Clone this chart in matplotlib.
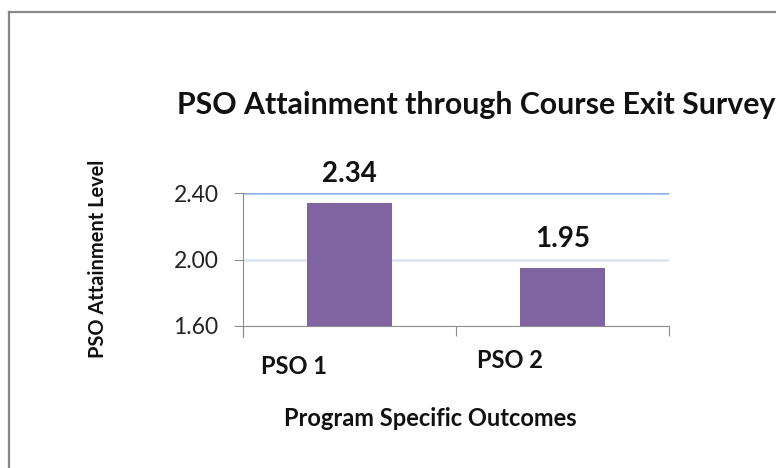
import matplotlib
matplotlib.use("Agg")
import matplotlib.pyplot as plt
from matplotlib.lines import Line2D

# Data
categories = ["PSO 1", "PSO 2"]
values = [2.34, 1.95]
y_ticks = [1.60, 2.00, 2.40]
grid_colors = ["#DBE5F1", "#8EB4E3"]   # 2.00 line, 2.40 line

plt.rcParams["font.family"] = ["Lato", "DejaVu Sans"]

W, H = 776, 468
fig = plt.figure(figsize=(W / 100, H / 100), dpi=100)

# chart border (cut off at right and bottom)
border = dict(color="#878787", lw=1.6, transform=fig.transFigure)
fig.add_artist(Line2D([8.5 / W, 1.02], [1 - 11.5 / H] * 2, **border))
fig.add_artist(Line2D([8.5 / W] * 2, [1 - 11.5 / H, -0.02], **border))

ax = fig.add_axes([243 / W, 1 - 326 / H, 426 / W, 133 / H])

x_pos = [i + 0.5 for i in range(len(categories))]
ax.bar(x_pos, values, width=0.40, color="#8064A2", zorder=3)

ax.set_xlim(0, len(categories))
ax.set_ylim(y_ticks[0], y_ticks[-1])

# horizontal gridlines
for yv, c in zip(y_ticks[1:], grid_colors):
    ax.axhline(yv, color=c, lw=1.8, zorder=1)

for side in ["top", "right"]:
    ax.spines[side].set_visible(False)
ax.spines["left"].set_color("#8C8C8C")
ax.spines["bottom"].set_color("#8C8C8C")
ax.spines["left"].set_bounds(y_ticks[0] - 0.065, y_ticks[-1])

ax.set_yticks(y_ticks)
ax.set_yticklabels([f"{t:.2f}" for t in y_ticks], fontsize=16.5, color="#222222")
ax.tick_params(axis="y", direction="out", length=6.5, width=0.8, color="#8C8C8C", pad=11)
ax.set_xticks(range(len(categories) + 1))
ax.set_xticklabels([])
ax.tick_params(axis="x", direction="out", length=7.5, width=0.8, color="#8C8C8C")

# value labels
for xp, v in zip(x_pos, values):
    ax.annotate(f"{v:.2f}", (xp, v), xytext=(0, 21), textcoords="offset points",
                ha="center", va="center", fontsize=20, fontweight="bold", color="#111111")

# category labels (placed as in the original, offset from the bars)
cat_px = [(294, 367), (510, 360)]
for name, (px, py) in zip(categories, cat_px):
    fig.text(px / W, 1 - py / H, name, ha="center", va="center",
             fontsize=17, fontweight="bold", color="#111111")

fig.text(177 / W, 1 - 114 / H, "PSO Attainment through Course Exit Survey",
         ha="left", va="baseline", fontsize=21.8, fontweight="bold", color="#111111")
fig.text(430 / W, 1 - 418 / H, "Program Specific Outcomes", ha="center", va="center",
         fontsize=17, fontweight="bold", color="#111111")
fig.text(98 / W, 1 - 259 / H, "PSO Attainment Level", ha="center", va="center",
         rotation=90, fontsize=14.4, fontweight="bold", color="#111111")

fig.savefig("out.png", dpi=100)
